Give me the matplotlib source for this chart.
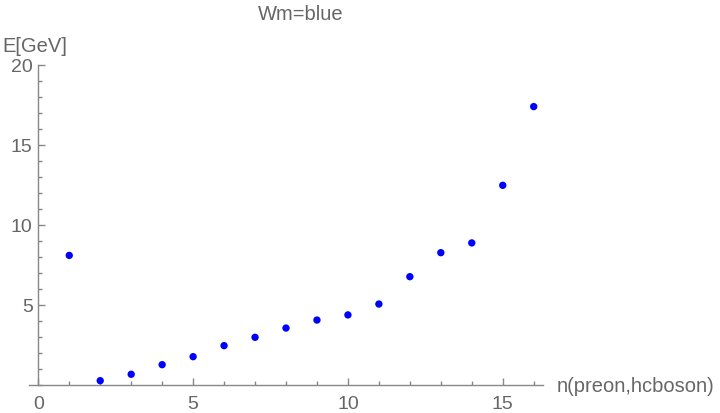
import matplotlib
matplotlib.use("Agg")
import matplotlib.pyplot as plt
from matplotlib.ticker import MultipleLocator

n = [1, 2, 3, 4, 5, 6, 7, 8, 9, 10, 11, 12, 13, 14, 15, 16]
energy = [8.1, 0.27, 0.67, 1.27, 1.77, 2.46, 2.98, 3.56, 4.06, 4.38, 5.06, 6.77, 8.27, 8.88, 12.48, 17.4]
x_major = [0, 5, 10, 15]
y_major = [5, 10, 15, 20]

plt.rcParams['font.family'] = ['Liberation Sans', 'DejaVu Sans']
fig = plt.figure(figsize=(7.2, 4.14), dpi=100)
ax = fig.add_axes([29/720, (414-386)/414, (543-29)/720, 320/414])

ax.scatter(n, energy, s=28, color='#0000ff', edgecolors='none', zorder=3, clip_on=False)

ax.set_xlim(-0.3, 16.3)
ax.set_ylim(0, 20)
for s in ['top', 'right']:
    ax.spines[s].set_visible(False)
ax.spines['left'].set_position(('data', 0))
ax.spines['bottom'].set_position(('data', 0))
gray = '#888888'
for s in ['left', 'bottom']:
    ax.spines[s].set_color(gray)
    ax.spines[s].set_linewidth(1.0)

ax.set_xticks(x_major)
ax.set_xticklabels([str(v) for v in x_major])
ax.set_yticks(y_major)
ax.set_yticklabels([str(v) for v in y_major])
ax.xaxis.set_minor_locator(MultipleLocator(1))
ax.yaxis.set_minor_locator(MultipleLocator(1))
ax.tick_params(which='major', direction='in', length=5, width=1, color=gray,
               labelcolor='#666666', labelsize=14, pad=4)
ax.tick_params(which='minor', direction='in', length=3, width=1, color=gray)
ax.tick_params(axis='x', which='major', pad=7)

fig.text(301/720, 1 - 15/414, 'Wm=blue', ha='center', va='center', fontsize=14.5, color='#666666')
fig.text(2/720, 1 - 46/414, 'E[GeV]', ha='left', va='center', fontsize=14.5, color='#666666')
fig.text(557/720, 1 - 387/414, 'n(preon,hcboson)', ha='left', va='center', fontsize=14.5, color='#666666')

fig.savefig('out.png', dpi=100)
